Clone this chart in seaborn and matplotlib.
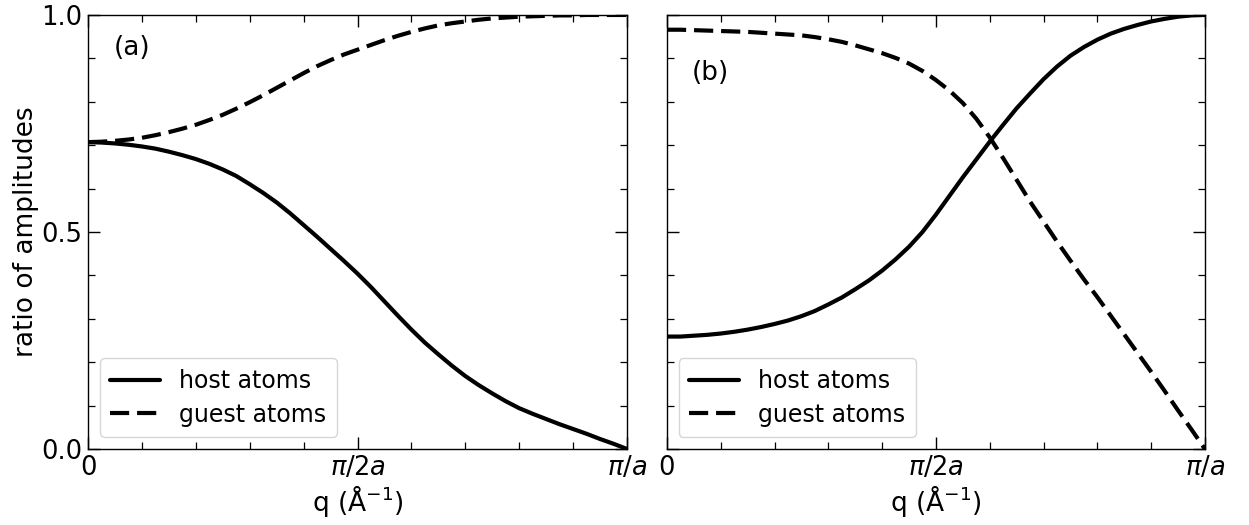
import numpy as np
import pandas as pd
import matplotlib
matplotlib.use("Agg")
import matplotlib.pyplot as plt
from matplotlib.ticker import MultipleLocator, FixedLocator, FixedFormatter, FormatStrFormatter
import seaborn as sns

# wave vector q in units of pi/a
q = [0.000, 0.025, 0.050, 0.075, 0.100, 0.125, 0.150, 0.175, 0.200, 0.225,
     0.250, 0.275, 0.300, 0.325, 0.350, 0.375, 0.400, 0.425, 0.450, 0.475,
     0.500, 0.525, 0.550, 0.575, 0.600, 0.625, 0.650, 0.675, 0.700, 0.725,
     0.750, 0.775, 0.800, 0.825, 0.850, 0.875, 0.900, 0.925, 0.950, 0.975, 1.000]

# panel (a)
host_a = [0.707, 0.706, 0.704, 0.701, 0.697, 0.692, 0.685, 0.677, 0.668, 0.657,
          0.644, 0.629, 0.610, 0.590, 0.568, 0.543, 0.516, 0.489, 0.461, 0.433,
          0.404, 0.373, 0.340, 0.307, 0.275, 0.245, 0.218, 0.192, 0.168, 0.147,
          0.128, 0.110, 0.094, 0.081, 0.069, 0.057, 0.046, 0.035, 0.023, 0.012, 0.000]
guest_a = [0.707, 0.708, 0.710, 0.713, 0.717, 0.723, 0.730, 0.738, 0.747, 0.758,
           0.770, 0.784, 0.799, 0.815, 0.832, 0.849, 0.866, 0.882, 0.896, 0.909,
           0.920, 0.931, 0.942, 0.952, 0.961, 0.969, 0.976, 0.981, 0.985, 0.989,
           0.992, 0.994, 0.996, 0.997, 0.998, 0.999, 0.999, 1.000, 1.000, 1.000, 1.000]

# panel (b)
host_b = [0.259, 0.259, 0.261, 0.263, 0.266, 0.270, 0.275, 0.281, 0.288, 0.296,
          0.306, 0.318, 0.333, 0.349, 0.368, 0.388, 0.411, 0.437, 0.466, 0.500,
          0.540, 0.583, 0.626, 0.667, 0.708, 0.747, 0.785, 0.819, 0.852, 0.881,
          0.906, 0.926, 0.943, 0.957, 0.968, 0.977, 0.985, 0.991, 0.996, 0.999, 1.000]
guest_b = [0.966, 0.966, 0.965, 0.964, 0.963, 0.962, 0.961, 0.959, 0.957, 0.955,
           0.953, 0.949, 0.944, 0.938, 0.930, 0.921, 0.912, 0.901, 0.888, 0.871,
           0.850, 0.826, 0.797, 0.761, 0.718, 0.670, 0.620, 0.570, 0.524, 0.478,
           0.434, 0.391, 0.350, 0.307, 0.264, 0.221, 0.178, 0.134, 0.089, 0.045, 0.000]

xtick_pos = [0.0, 0.5, 1.0]
xtick_labels = ["0", r"$\pi/2a$", r"$\pi/a$"]
panel_tags = ["(a)", "(b)"]
series_names = ["host atoms", "guest atoms"]

sns.set_theme(style="ticks")
plt.rcParams.update({
    "font.family": ["DejaVu Sans"],
    "text.color": "black",
    "axes.labelcolor": "black",
    "axes.linewidth": 1.0,
    "axes.edgecolor": "black",
    "xtick.direction": "in",
    "ytick.direction": "in",
    "xtick.top": True,
    "ytick.right": True,
    "xtick.major.size": 8.5,
    "ytick.major.size": 8.5,
    "xtick.minor.size": 5,
    "ytick.minor.size": 5,
    "xtick.major.width": 1.0,
    "ytick.major.width": 1.0,
    "xtick.minor.width": 0.9,
    "ytick.minor.width": 0.9,
    "xtick.color": "black",
    "ytick.color": "black",
    "xtick.labelcolor": "black",
    "ytick.labelcolor": "black",
    "mathtext.fontset": "dejavusans",
})

fig = plt.figure(figsize=(12.49, 5.25), dpi=100)
ax_a = fig.add_axes([0.0705, 0.1448, 0.4315, 0.8267])
ax_b = fig.add_axes([0.5340, 0.1448, 0.4307, 0.8267])

panels = [(ax_a, host_a, guest_a), (ax_b, host_b, guest_b)]
tag_pos = [(0.048, 0.924), (0.046, 0.866)]

for i, (ax, host, guest) in enumerate(panels):
    df = pd.DataFrame({"q": q * 2,
                       "amp": host + guest,
                       "atoms": [series_names[0]] * len(q) + [series_names[1]] * len(q)})
    sns.lineplot(data=df, x="q", y="amp", style="atoms",
                 dashes={series_names[0]: "", series_names[1]: (4.6, 1.9)},
                 color="black", linewidth=3, ax=ax)
    ax.set_xlim(0, 1)
    ax.set_ylim(0, 1)
    ax.xaxis.set_major_locator(FixedLocator(xtick_pos))
    ax.xaxis.set_major_formatter(FixedFormatter(xtick_labels))
    ax.xaxis.set_minor_locator(MultipleLocator(0.1))
    ax.yaxis.set_major_locator(MultipleLocator(0.5))
    ax.yaxis.set_major_formatter(FormatStrFormatter("%.1f"))
    ax.yaxis.set_minor_locator(MultipleLocator(0.1))
    ax.tick_params(which="both", top=True, right=True, labelsize=18.5, pad=4)
    ax.set_xlabel(r"q (Å$^{-1}$)", fontsize=19, labelpad=2)
    ax.text(tag_pos[i][0], tag_pos[i][1], panel_tags[i], transform=ax.transAxes,
            fontsize=19, va="center", ha="left")
    leg = ax.legend(loc="lower left", fontsize=17, handlelength=2.1, frameon=True,
                    borderaxespad=0.5, borderpad=0.45, labelspacing=0.4)
    leg.set_title(None)
    for spine in ax.spines.values():
        spine.set_visible(True)
        spine.set_color("black")

ax_a.set_ylabel("ratio of amplitudes", fontsize=19, labelpad=2)
ax_b.set_ylabel("")
ax_b.tick_params(labelleft=False)

fig.savefig("out.png", dpi=100)
